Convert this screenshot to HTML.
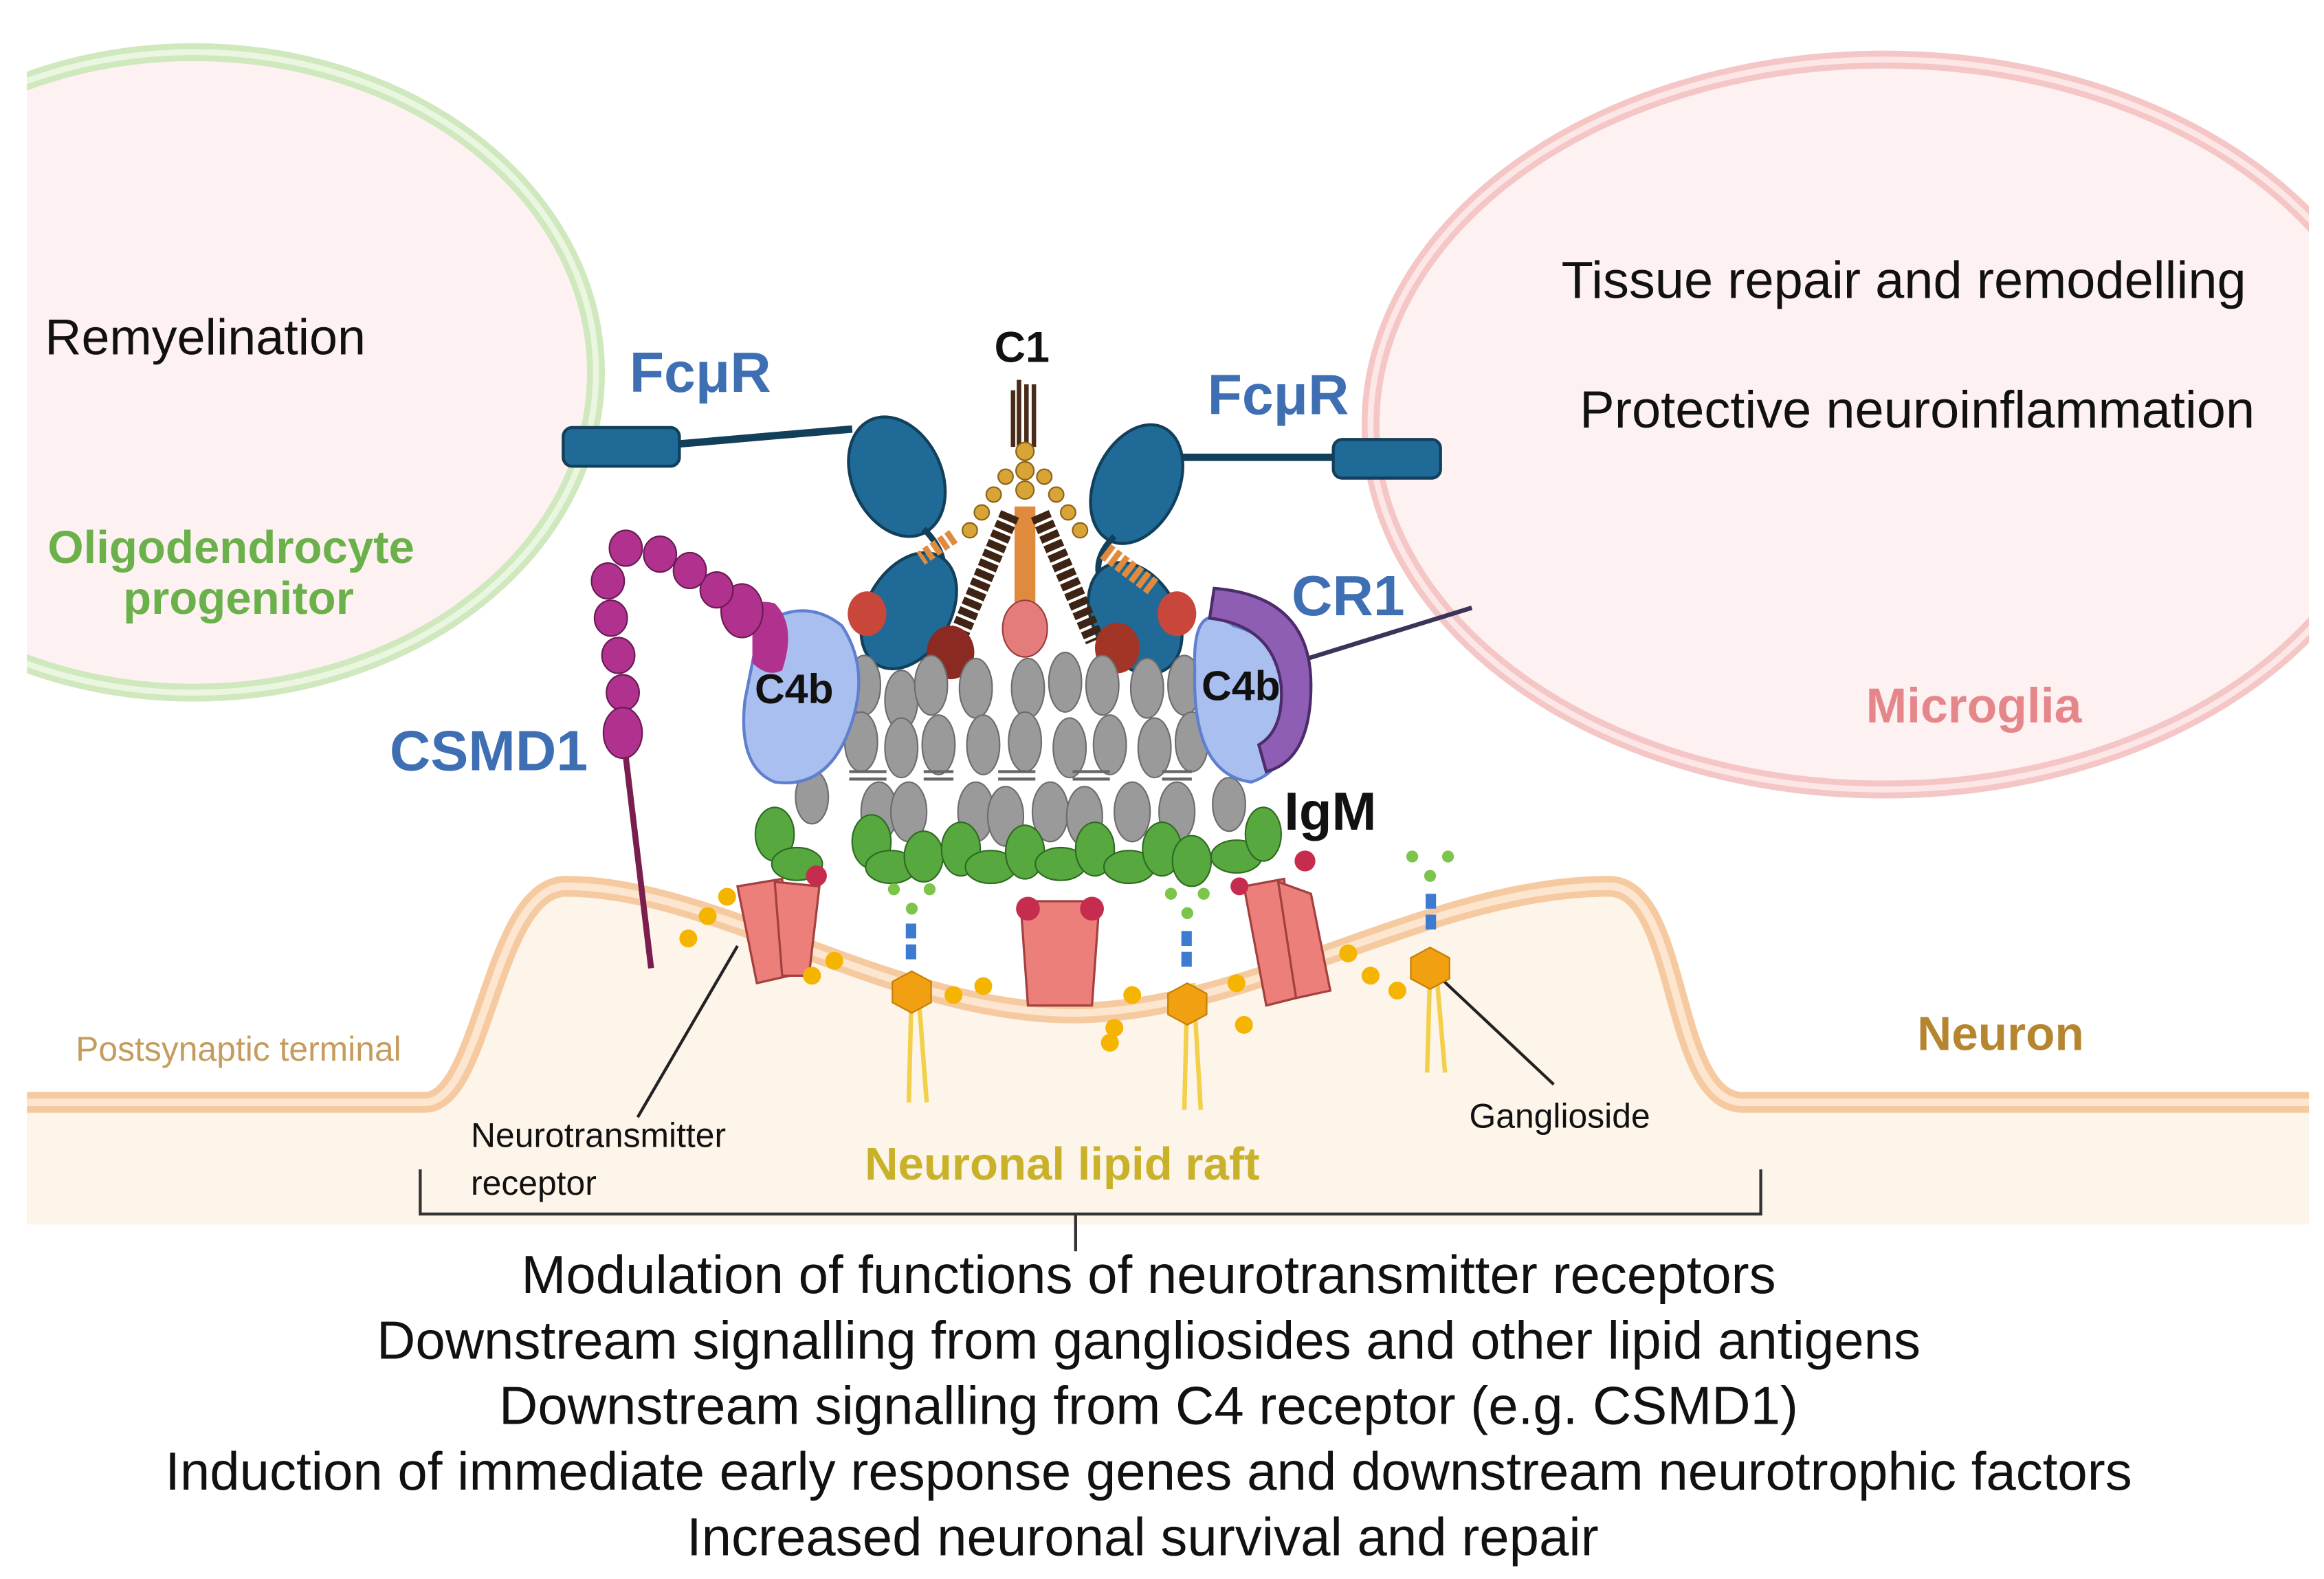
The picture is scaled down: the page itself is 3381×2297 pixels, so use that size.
<!DOCTYPE html>
<html><head><meta charset="utf-8"><style>
html,body{margin:0;padding:0;background:#fff;}
svg{display:block;}
text{font-family:"Liberation Sans",sans-serif;}
</style></head><body>
<svg width="3381" height="2297" viewBox="0 0 1560 1060" xmlns="http://www.w3.org/2000/svg">
<rect width="1560" height="1060" fill="#fff"/>
<path d="M18 740 L285 740 C325 740 330 595 380 595 C480 595 600 680 720 680 C840 680 960 595 1080 595 C1130 595 1120 740 1170 740 L1550 740 L1550 822 L18 822 Z" fill="#fdf4ea"/>
<path d="M18 740 L285 740 C325 740 330 595 380 595 C480 595 600 680 720 680 C840 680 960 595 1080 595 C1130 595 1120 740 1170 740 L1550 740" fill="none" stroke="#f6caa0" stroke-width="14"/>
<path d="M18 740 L285 740 C325 740 330 595 380 595 C480 595 600 680 720 680 C840 680 960 595 1080 595 C1130 595 1120 740 1170 740 L1550 740" fill="none" stroke="#fde6cf" stroke-width="5"/>
<clipPath id="c"><rect x="18" y="0" width="1532" height="1060"/></clipPath>
<g clip-path="url(#c)">
<ellipse cx="130" cy="250" rx="270" ry="215" fill="#fdf1f1" stroke="#cfe8bd" stroke-width="12"/>
<ellipse cx="130" cy="250" rx="270" ry="215" fill="none" stroke="#eaf6e0" stroke-width="4"/>
<ellipse cx="1265" cy="285" rx="345" ry="245" fill="#fdf1f1" stroke="#f4c6c6" stroke-width="12"/>
<ellipse cx="1265" cy="285" rx="345" ry="245" fill="none" stroke="#fde6e6" stroke-width="4"/>
</g>
<text x="30" y="238" font-size="34" fill="#111">Remyelination</text>
<text x="155" y="378" font-size="31" font-weight="bold" fill="#6bb14b" text-anchor="middle">Oligodendrocyte</text>
<text x="160" y="412" font-size="31" font-weight="bold" fill="#6bb14b" text-anchor="middle">progenitor</text>
<text x="1278" y="200" font-size="35" fill="#111" text-anchor="middle">Tissue repair and remodelling</text>
<text x="1287" y="287" font-size="35" fill="#111" text-anchor="middle">Protective neuroinflammation</text>
<text x="1325" y="485" font-size="33" font-weight="bold" fill="#e5868a" text-anchor="middle">Microglia</text>
<text x="470" y="263" font-size="38" font-weight="bold" fill="#3f6fb3" text-anchor="middle">FcμR</text>
<text x="858" y="278" font-size="38" font-weight="bold" fill="#3f6fb3" text-anchor="middle">FcμR</text>
<text x="905" y="413" font-size="38" font-weight="bold" fill="#3f6fb3" text-anchor="middle">CR1</text>
<text x="328" y="517" font-size="38" font-weight="bold" fill="#3f6fb3" text-anchor="middle">CSMD1</text>
<text x="686" y="243" font-size="29" font-weight="bold" fill="#111" text-anchor="middle">C1</text>
<text x="893" y="557" font-size="36" font-weight="bold" fill="#111" text-anchor="middle">IgM</text>
<text x="1343" y="705" font-size="32" font-weight="bold" fill="#b5862f" text-anchor="middle">Neuron</text>
<text x="160" y="712" font-size="23" fill="#c59c5d" text-anchor="middle">Postsynaptic terminal</text>
<text x="713" y="792" font-size="31" font-weight="bold" fill="#c9b22a" text-anchor="middle">Neuronal lipid raft</text>
<text x="316" y="770" font-size="23" fill="#111">Neurotransmitter</text>
<text x="316" y="802" font-size="23" fill="#111">receptor</text>
<text x="1047" y="757" font-size="23" fill="#111" text-anchor="middle">Ganglioside</text>
<line x1="428" y1="750" x2="495" y2="635" stroke="#222" stroke-width="2"/>
<line x1="1043" y1="728" x2="960" y2="650" stroke="#222" stroke-width="2"/>
<path d="M282 785 L282 815 L1182 815 L1182 785 M722 815 L722 840" fill="none" stroke="#333" stroke-width="2"/>
<g font-size="36" fill="#111" text-anchor="middle">
<text x="771" y="868">Modulation of functions of neurotransmitter receptors</text>
<text x="771" y="912">Downstream  signalling from gangliosides and other lipid antigens</text>
<text x="771" y="956">Downstream signalling from C4 receptor (e.g. CSMD1)</text>
<text x="771" y="1000">Induction of immediate early response genes and downstream neurotrophic factors</text>
<text x="767" y="1044">Increased neuronal survival and repair</text>
</g>
<rect x="378" y="287" width="78" height="26" rx="6" fill="#1f6a97" stroke="#123f5a" stroke-width="2"/>
<line x1="456" y1="298" x2="572" y2="288" stroke="#123f5a" stroke-width="5"/>
<ellipse cx="602" cy="320" rx="30" ry="42" transform="rotate(-25 602 320)" fill="#1f6a97" stroke="#123f5a" stroke-width="2"/>
<path d="M620 355 Q640 375 630 395" fill="none" stroke="#123f5a" stroke-width="4"/>
<ellipse cx="610" cy="410" rx="28" ry="42" transform="rotate(30 610 410)" fill="#1f6a97" stroke="#123f5a" stroke-width="2"/>
<rect x="895" y="295" width="72" height="26" rx="6" fill="#1f6a97" stroke="#123f5a" stroke-width="2"/>
<line x1="790" y1="307" x2="895" y2="307" stroke="#123f5a" stroke-width="5"/>
<ellipse cx="763" cy="325" rx="28" ry="42" transform="rotate(25 763 325)" fill="#1f6a97" stroke="#123f5a" stroke-width="2"/>
<path d="M748 360 Q728 380 745 400" fill="none" stroke="#123f5a" stroke-width="4"/>
<ellipse cx="762" cy="415" rx="28" ry="40" transform="rotate(-30 762 415)" fill="#1f6a97" stroke="#123f5a" stroke-width="2"/>
<path d="M684 255 V300 M689 258 V300 M694 258 V300 M680 262 V300" stroke="#4a2a18" stroke-width="3"/>
<g fill="#d9a437" stroke="#8a6418" stroke-width="1">
<circle cx="688" cy="303" r="6"/><circle cx="688" cy="316" r="6"/><circle cx="688" cy="329" r="6"/>
<circle cx="675" cy="320" r="5"/><circle cx="667" cy="332" r="5"/><circle cx="659" cy="344" r="5"/><circle cx="651" cy="356" r="5"/>
<circle cx="701" cy="320" r="5"/><circle cx="709" cy="332" r="5"/><circle cx="717" cy="344" r="5"/><circle cx="725" cy="356" r="5"/>
</g>
<path d="M688 340 V405" stroke="#e08a3e" stroke-width="14"/>
<path d="M678 345 L642 430" stroke="#3e2414" stroke-width="13" stroke-dasharray="5 2"/>
<path d="M698 345 L735 430" stroke="#3e2414" stroke-width="13" stroke-dasharray="5 2"/>
<path d="M640 360 L618 375" stroke="#e08a3e" stroke-width="10" stroke-dasharray="4 2"/>
<path d="M742 370 L775 395" stroke="#e08a3e" stroke-width="12" stroke-dasharray="4 2"/>
<ellipse cx="688" cy="422" rx="15" ry="19" fill="#e57c7c" stroke="#9b3b3b"/>
<ellipse cx="638" cy="438" rx="16" ry="18" fill="#8b2a22"/>
<ellipse cx="750" cy="435" rx="15" ry="17" fill="#a33527"/>
<ellipse cx="582" cy="412" rx="13" ry="15" fill="#c8463a"/>
<ellipse cx="790" cy="412" rx="13" ry="15" fill="#c8463a"/>
<g fill="#9a9a9a" stroke="#6d6d6d" stroke-width="1">
<ellipse cx="580" cy="460" rx="11" ry="20"/><ellipse cx="605" cy="470" rx="11" ry="20"/><ellipse cx="625" cy="460" rx="11" ry="20"/>
<ellipse cx="655" cy="462" rx="11" ry="20"/><ellipse cx="690" cy="462" rx="11" ry="20"/><ellipse cx="715" cy="458" rx="11" ry="20"/>
<ellipse cx="740" cy="460" rx="11" ry="20"/><ellipse cx="770" cy="462" rx="11" ry="20"/><ellipse cx="795" cy="460" rx="11" ry="20"/>
<ellipse cx="578" cy="498" rx="11" ry="20"/><ellipse cx="605" cy="502" rx="11" ry="20"/><ellipse cx="630" cy="500" rx="11" ry="20"/>
<ellipse cx="660" cy="500" rx="11" ry="20"/><ellipse cx="688" cy="498" rx="11" ry="20"/><ellipse cx="718" cy="502" rx="11" ry="20"/>
<ellipse cx="745" cy="500" rx="11" ry="20"/><ellipse cx="775" cy="502" rx="11" ry="20"/><ellipse cx="800" cy="498" rx="11" ry="20"/>
<ellipse cx="545" cy="535" rx="11" ry="18"/><ellipse cx="590" cy="545" rx="12" ry="20"/><ellipse cx="610" cy="545" rx="12" ry="20"/>
<ellipse cx="655" cy="545" rx="12" ry="20"/><ellipse cx="675" cy="548" rx="12" ry="20"/><ellipse cx="705" cy="545" rx="12" ry="20"/>
<ellipse cx="728" cy="548" rx="12" ry="20"/><ellipse cx="760" cy="545" rx="12" ry="20"/><ellipse cx="790" cy="545" rx="12" ry="20"/>
<ellipse cx="825" cy="540" rx="11" ry="18"/>
</g>
<g stroke="#666" stroke-width="2" fill="none">
<path d="M570 518 H595 M570 523 H595 M620 518 H640 M620 523 H640 M670 518 H695 M670 523 H695 M720 518 H745 M720 523 H745 M780 518 H800 M780 523 H800"/>
</g>
<g fill="#57a83f" stroke="#2e6b22" stroke-width="1">
<ellipse cx="520" cy="560" rx="13" ry="18"/><ellipse cx="535" cy="580" rx="17" ry="11"/>
<ellipse cx="585" cy="565" rx="13" ry="18"/><ellipse cx="598" cy="582" rx="17" ry="11"/><ellipse cx="620" cy="575" rx="13" ry="17"/>
<ellipse cx="645" cy="570" rx="13" ry="18"/><ellipse cx="665" cy="582" rx="17" ry="11"/><ellipse cx="688" cy="572" rx="13" ry="18"/>
<ellipse cx="712" cy="580" rx="17" ry="11"/><ellipse cx="735" cy="570" rx="13" ry="18"/><ellipse cx="758" cy="582" rx="17" ry="11"/>
<ellipse cx="780" cy="570" rx="13" ry="18"/><ellipse cx="800" cy="578" rx="13" ry="17"/><ellipse cx="830" cy="575" rx="17" ry="11"/><ellipse cx="848" cy="560" rx="12" ry="18"/>
</g>
<path d="M510 420 Q540 400 565 420 Q585 450 570 490 Q555 530 520 525 Q495 515 500 470 Z" fill="#a9bfef" stroke="#5f7fcf" stroke-width="2"/>
<path d="M828 420 Q800 400 802 450 Q800 520 840 525 Q870 515 865 470 Q865 430 828 420 Z" fill="#a9bfef" stroke="#5f7fcf" stroke-width="2"/>
<text x="533" y="472" font-size="28" font-weight="bold" fill="#111" text-anchor="middle">C4b</text>
<text x="833" y="470" font-size="28" font-weight="bold" fill="#111" text-anchor="middle">C4b</text>
<path d="M815 395 Q880 400 880 460 Q880 510 850 518 L845 500 Q862 490 860 460 Q855 420 812 415 Z" fill="#8e5eb5" stroke="#4c2d6b" stroke-width="2"/>
<line x1="878" y1="442" x2="988" y2="408" stroke="#3b3458" stroke-width="3"/>
<path d="M505 420 Q500 400 520 405 Q535 420 525 450 Q515 455 505 445 Z" fill="#b0328e"/>
<g fill="#b0328e" stroke="#6a1a55" stroke-width="1">
<ellipse cx="498" cy="410" rx="14" ry="18"/><ellipse cx="481" cy="396" rx="11" ry="12"/><ellipse cx="463" cy="383" rx="11" ry="12"/>
<ellipse cx="443" cy="372" rx="11" ry="12"/><ellipse cx="420" cy="368" rx="11" ry="12"/><ellipse cx="408" cy="390" rx="11" ry="12"/>
<ellipse cx="410" cy="415" rx="11" ry="12"/><ellipse cx="415" cy="440" rx="11" ry="12"/><ellipse cx="418" cy="465" rx="11" ry="12"/><ellipse cx="418" cy="492" rx="13" ry="17"/>
</g>
<line x1="420" y1="508" x2="437" y2="650" stroke="#7a1e50" stroke-width="4"/>
<g fill="#ec7f7a" stroke="#a34040" stroke-width="1.5">
<path d="M495 595 L525 590 L530 655 L508 660 Z"/><path d="M520 592 L550 595 L543 655 L525 655 Z"/>
<path d="M685 605 H738 L733 675 H690 Z"/>
<path d="M835 595 L862 590 L870 670 L850 675 Z"/><path d="M858 592 L880 600 L893 665 L870 670 Z"/>
</g>
<g fill="#c52c4e"><circle cx="548" cy="588" r="7"/><circle cx="690" cy="610" r="8"/><circle cx="733" cy="610" r="8"/><circle cx="876" cy="578" r="7"/><circle cx="832" cy="595" r="6"/></g>
<g>
<path d="M612 660 L610 740 M616 660 L622 740 M797 660 L795 745 M801 660 L806 745 M960 650 L958 720 M964 650 L970 720" stroke="#f2d04a" stroke-width="3"/>
<g fill="#f0a010" stroke="#c67f05"><polygon points="612,652 625,659 625,673 612,680 599,673 599,659"/><polygon points="797,660 810,667 810,681 797,688 784,681 784,667"/><polygon points="960,636 973,643 973,657 960,664 947,657 947,643"/></g>
<g fill="#3d7bd0"><rect x="608" y="620" width="7" height="10"/><rect x="608" y="634" width="7" height="10"/><rect x="793" y="625" width="7" height="10"/><rect x="793" y="639" width="7" height="10"/><rect x="957" y="600" width="7" height="10"/><rect x="957" y="614" width="7" height="10"/></g>
<g fill="#7cc44a"><circle cx="600" cy="597" r="4"/><circle cx="624" cy="597" r="4"/><circle cx="612" cy="610" r="4"/><circle cx="786" cy="600" r="4"/><circle cx="808" cy="600" r="4"/><circle cx="797" cy="613" r="4"/><circle cx="948" cy="575" r="4"/><circle cx="972" cy="575" r="4"/><circle cx="960" cy="588" r="4"/></g>
</g>
<g fill="#f5b400">
<circle cx="462" cy="630" r="6"/><circle cx="475" cy="615" r="6"/><circle cx="488" cy="602" r="6"/><circle cx="545" cy="655" r="6"/><circle cx="560" cy="645" r="6"/>
<circle cx="640" cy="668" r="6"/><circle cx="660" cy="662" r="6"/><circle cx="760" cy="668" r="6"/><circle cx="748" cy="690" r="6"/><circle cx="830" cy="660" r="6"/><circle cx="835" cy="688" r="6"/>
<circle cx="905" cy="640" r="6"/><circle cx="920" cy="655" r="6"/><circle cx="938" cy="665" r="6"/><circle cx="745" cy="700" r="6"/>
</g>
</svg>
</body></html>
